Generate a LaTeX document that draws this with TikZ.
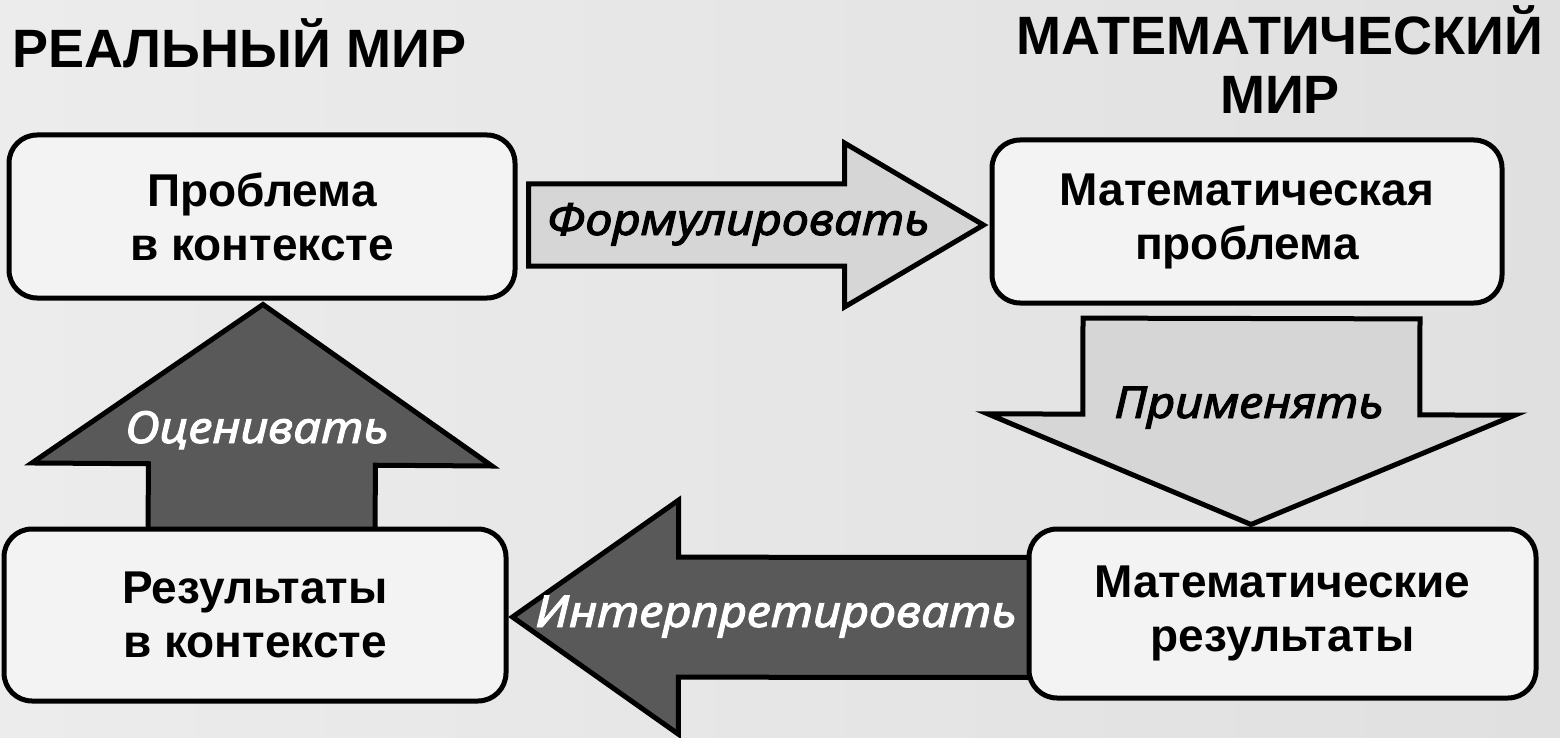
\documentclass[tikz,border=0pt]{standalone}
\usepackage{fontspec}
\setmainfont{Liberation Sans}
\newfontfamily\lblfont[FakeBold=2.2]{Noto Sans}
\usetikzlibrary{calc}
\pgfdeclarelayer{bg}
\pgfdeclarelayer{arr}
\pgfsetlayers{bg,arr,main}
\definecolor{bgleft}{HTML}{ECECEC}
\definecolor{bgmid}{HTML}{FBFBFB}
\definecolor{bgright}{HTML}{E0E0E0}
\definecolor{boxfill}{HTML}{F3F3F3}
\definecolor{lightarrfill}{HTML}{D6D6D6}
\definecolor{darkarrfill}{HTML}{595959}
\newcommand\lbltext[1]{\scalebox{1.11}[1]{#1}}
\tikzset{
  box/.style={draw=black, line width=5pt, rounded corners=28pt, fill=boxfill,
    align=center, font=\fontsize{46}{54}\selectfont\bfseries, inner sep=0pt},
  lightarr/.style={draw=black, line width=5pt, fill=lightarrfill, line join=miter},
  darkarr/.style={draw=black, line width=5pt, fill=darkarrfill, line join=miter},
  lbl/.style={font=\lblfont\fontsize{44}{44}\selectfont\itshape, inner sep=0pt, anchor=base},
  hdr/.style={font=\fontsize{54}{61}\selectfont\bfseries, inner sep=0pt, anchor=base},
}
% #1 style, #2 tail centre, #3 tip, #4 shaft half width, #5 head half width, #6 head length
\newcommand\blockarrow[6]{%
  \coordinate (bah) at ($(#3)!#6!(#2)$);
  \draw[#1] ($(#2)!#4!90:(#3)$) -- ($(bah)!#4!90:(#3)$) -- ($(bah)!#5!90:(#3)$)
    -- (#3) -- ($(bah)!#5!-90:(#3)$) -- ($(bah)!#4!-90:(#3)$)
    -- ($(#2)!#4!-90:(#3)$) -- cycle;}
\begin{document}
\begin{tikzpicture}[x=1pt,y=-1pt]
\useasboundingbox (0,0) rectangle (1560,738);
\begin{pgfonlayer}{bg}
  \shade[left color=bgleft, middle color=bgmid, right color=bgright] (0,0) rectangle (1560,738);
\end{pgfonlayer}

% headers
\node[hdr, anchor=base west] (real) at (12,68) {РЕАЛЬНЫЙ МИР};
\node[hdr] (math1) at (1280,55) {МАТЕМАТИЧЕСКИЙ};
\node[hdr] (math2) at (1280,114) {МИР};

% boxes
\node[box, minimum width=506pt, minimum height=163pt] (b1) at (262,216.5) {Проблема\\в контексте};
\node[box, minimum width=510pt, minimum height=163pt] (b2) at (1247,221.5) {Математическая\\проблема};
\node[box, minimum width=502pt, minimum height=172pt] (b3) at (255,615) {Результаты\\в контексте};
\node[box, minimum width=507pt, minimum height=169pt] (b4) at (1282.5,613.5) {Математические\\результаты};

% arrow geometry from the boxes
\coordinate (fA) at ($(b1.east)+(11,8.5)$);
\coordinate (fB) at ($(b2.west)+(-6,3.5)$);
\coordinate (aA) at ($(b2.south)+(4.5,13)$);
\coordinate (aB) at ($(b4.north)+(-31.5,-2)$);
\coordinate (eA) at ($(b3.north)+(6.5,6)$);
\coordinate (eB) at ($(b1.south)+(1,4)$);
\coordinate (iA) at ($(b4.west)+(6,4)$);
\coordinate (iB) at ($(b3.east)+(4,2)$);

\begin{pgfonlayer}{arr}
  \blockarrow{lightarr}{fA}{fB}{41pt}{82pt}{139pt}
  \blockarrow{lightarr}{aA}{aB}{168.5pt}{263.5pt}{110pt}
  \blockarrow{darkarr}{eA}{eB}{113.5pt}{230pt}{160pt}
  \blockarrow{darkarr}{iA}{iB}{60pt}{117pt}{166pt}
\end{pgfonlayer}

% arrow labels
\node[lbl] (lf) at (738,235) {\lbltext{Формулировать}};
\node[lbl] (la) at (1249,418) {\lbltext{Применять}};
\node[lbl, text=white] (le) at (257,443) {\lbltext{Оценивать}};
\node[lbl, text=white] (li) at (776,627) {\lbltext{Интерпретировать}};
\end{tikzpicture}
\end{document}
